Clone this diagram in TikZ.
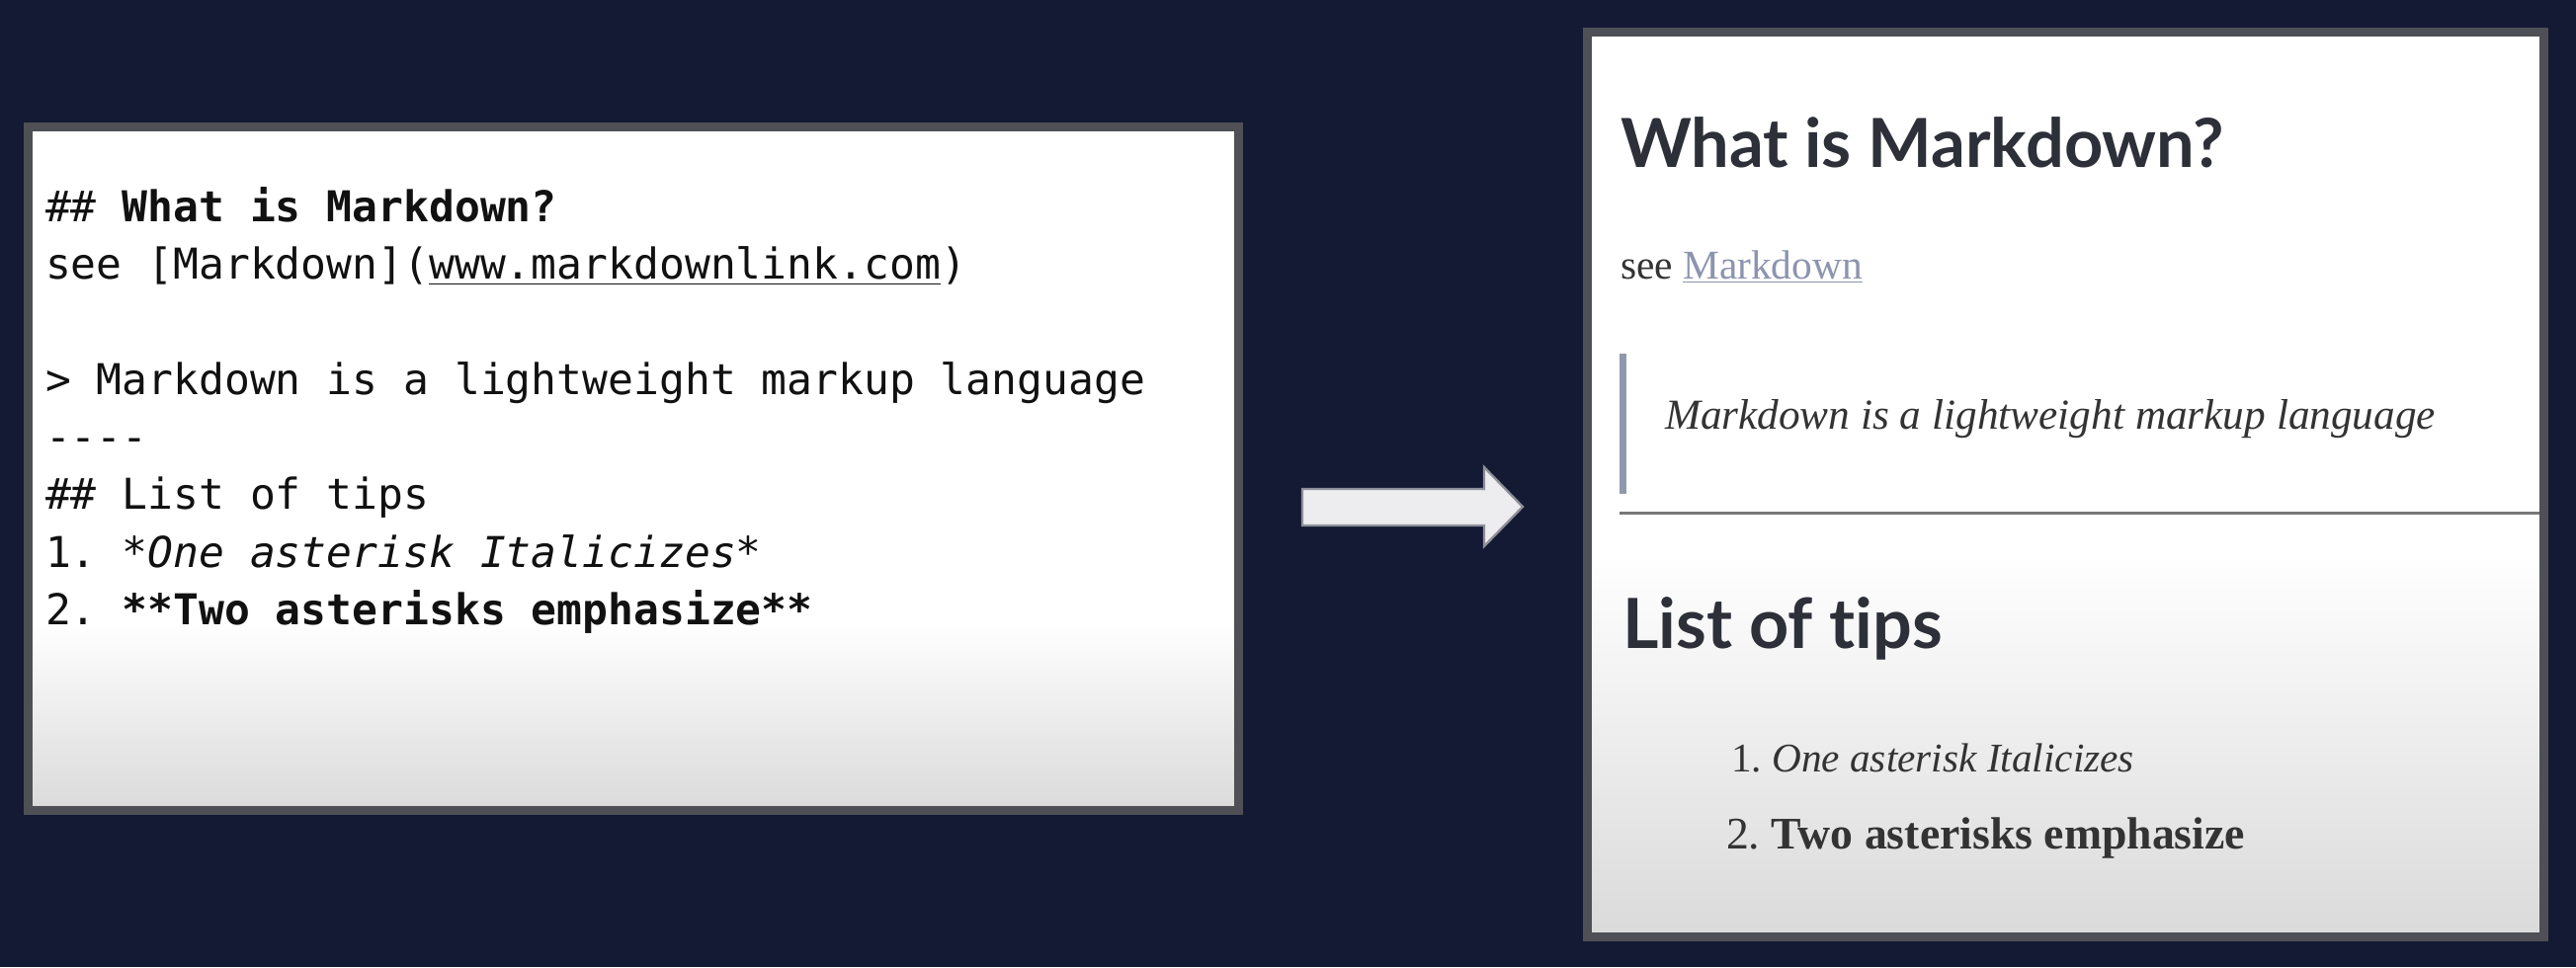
\documentclass[tikz,border=0pt]{standalone}
\usepackage{fontspec}
\usepackage{graphicx}
\setmonofont{DejaVu Sans Mono}
\newfontfamily\headfont[Ligatures={NoCommon,NoDiscretionary,NoContextual}]{Lato}
\newfontfamily\webserif{Liberation Serif}
\newcommand\fitw[2]{\resizebox{#1}{!}{#2}}
\definecolor{bgc}{HTML}{141A33}
\definecolor{framec}{HTML}{4E5055}
\definecolor{fadec}{HTML}{DADADA}
\definecolor{codec}{HTML}{111111}
\definecolor{headc}{HTML}{2D3038}
\definecolor{webtext}{HTML}{333333}
\definecolor{linkc}{HTML}{8C94AF}
\definecolor{barc}{HTML}{8F99AD}
\definecolor{hrc}{HTML}{777777}
\definecolor{arrowfill}{HTML}{EDEDEF}
\definecolor{arrowline}{HTML}{8E9099}
\begin{document}
\begin{tikzpicture}[x=0.3pt,y=-0.3pt,
  every node/.style={inner sep=0pt, outer sep=0pt},
  codeline/.style={anchor=base west, text=codec,
    font=\fontsize{12.9pt}{15pt}\selectfont\ttfamily\frenchspacing},
  webline/.style={anchor=base west, text=webtext,
    font=\fontsize{20pt}{24pt}\selectfont\frenchspacing},
  panelframe/.style={draw=framec, line width=2.7pt},
  blockarrow/.style={fill=arrowfill, draw=arrowline, line width=0.7pt, line join=miter}]
\fill[bgc] (0,0) rectangle (2607,979);
\useasboundingbox (0,0) rectangle (2607,979);

% left panel (markdown source)
\fill[white] (28.5,128.5) rectangle (1253.5,820.5);
\shade[top color=white, bottom color=fadec] (28.5,630) rectangle (1253.5,820.5);
\draw[panelframe] (28.5,128.5) rectangle (1253.5,820.5);

\node[codeline] (c1) at (46,224) {\#\# \textbf{What is Markdown?}};
\node[codeline] (c2) at (46,282) {see [Markdown](\underline{www.markdownlink.com})};
\node[codeline] (c3) at (46,399) {> Markdown is a lightweight markup language};
\node[codeline] (c4) at (46,457) {-{}-{}-{}-};
\node[codeline] (c5) at (46,515) {\#\# List of tips};
\node[codeline] (c6) at (46,574) {1. \textit{*One asterisk Italicizes*}};
\node[codeline] (c7) at (46,632) {2. \textbf{**Two asterisks emphasize**}};

% arrow
\draw[blockarrow] (1318,495) -- (1502,495) -- (1502,473) -- (1541,513)
  -- (1502,553) -- (1502,532) -- (1318,532) -- cycle;

% right panel (rendered output)
\fill[white] (1606.5,32.5) rectangle (2574.5,948.5);
\shade[top color=white, bottom color=fadec] (1606.5,560) rectangle (2574.5,948.5);
\draw[panelframe] (1606.5,32.5) rectangle (2574.5,948.5);

\node[webline, text=headc] (h1) at (1640,169)
  {\fitw{183.3pt}{\headfont\bfseries What is Markdown?}};
\node[webline] (see) at (1640,282)
  {\fitw{73.5pt}{\webserif see {\color{linkc}\underline{Markdown}}}};
\fill[barc] (1639,358) rectangle (1646,500);
\node[webline] (quote) at (1685,434)
  {\fitw{234pt}{\webserif\itshape Markdown is a lightweight markup language}};
\draw[hrc, line width=0.9pt] (1639,519) -- (2570,519);
\node[webline, text=headc] (h2) at (1642,656)
  {\fitw{97.2pt}{\headfont\bfseries List of tips}};
\node[webline] (li1) at (1752,781)
  {\fitw{122.4pt}{\webserif 1. \textit{One asterisk Italicizes}}};
\node[webline] (li2) at (1747,859)
  {\fitw{157.5pt}{\webserif 2. \textbf{Two asterisks emphasize}}};
\end{tikzpicture}
\end{document}
